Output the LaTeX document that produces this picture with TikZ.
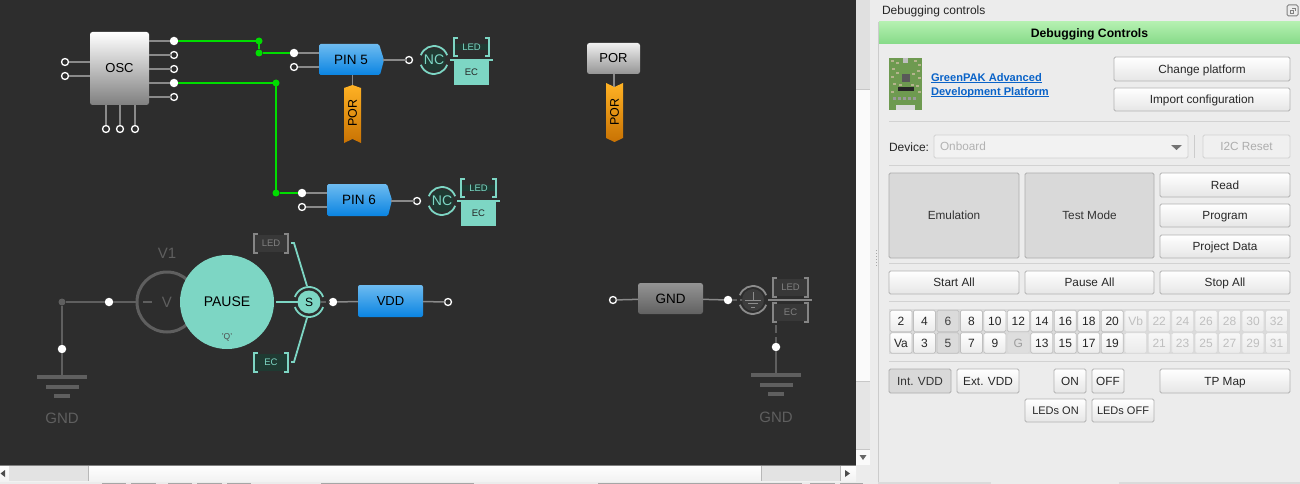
\documentclass[tikz,border=0pt]{standalone}
\usepackage{fontspec}
\setmainfont{Liberation Sans}
\usetikzlibrary{shadings,calc}
\definecolor{canvasbg}{HTML}{2D2D2D}
\definecolor{teal}{HTML}{7DD6C4}
\definecolor{darkteal}{HTML}{1F3A32}
\definecolor{wire}{HTML}{8A8A8A}
\definecolor{dimwire}{HTML}{5F5F5F}
\definecolor{gogreen}{HTML}{00DD00}
\definecolor{panelbg}{HTML}{ECECEC}
\definecolor{sep}{HTML}{D2D2D2}
\definecolor{btnline}{HTML}{B2B2B2}
\definecolor{linkblue}{HTML}{0A63C8}
\definecolor{blueA}{HTML}{6DBBF0}
\definecolor{blueB}{HTML}{0A84E2}
\definecolor{flagA}{HTML}{FFB224}
\definecolor{flagB}{HTML}{C87203}
\definecolor{btnbottom}{HTML}{E6E6E6}
\definecolor{headA}{HTML}{B4F0B0}
\definecolor{headB}{HTML}{86DA88}
\definecolor{boardgreen}{HTML}{6E9A50}
\definecolor{boardtan}{HTML}{B4B48C}
\tikzset{
  fs/.style={font=\fontsize{#1}{#1}\selectfont},
  base/.style={rectangle,inner sep=0pt,outer sep=0pt,align=center},
  capsalign/.style={text height=8.8pt,text depth=0pt},
  pinopen/.style={circle,draw=white,line width=1.3pt,fill=canvasbg,minimum size=7pt,inner sep=0pt,outer sep=0pt},
  pinfull/.style={circle,fill=white,minimum size=8.5pt,inner sep=0pt,outer sep=0pt},
  junction/.style={circle,fill=gogreen,minimum size=7pt,inner sep=0pt,outer sep=0pt},
  dimjunction/.style={circle,fill=dimwire,minimum size=7pt,inner sep=0pt,outer sep=0pt},
  wireline/.style={draw=wire,line width=1.5pt},
  greenwire/.style={draw=gogreen,line width=1.5pt},
  dimline/.style={draw=dimwire,line width=1.5pt},
  tealline/.style={draw=teal,line width=1.8pt},
  flagshape/.style={top color=flagA,bottom color=flagB,draw=none},
  pinshape/.style={top color=blueA,bottom color=blueB,draw=none,rounded corners=1.5pt},
  bluebox/.style={base,fs=13.5,text=black},
  flaglabel/.style={base,fs=12.5,text=black,rotate=90},
  bars/.style={fill=dimwire,draw=none},
  dimtext/.style={base,text=dimwire,fs=15},
  btn/.style={base,capsalign,rounded corners=1.5pt,draw=btnline,line width=.9pt,top color=white,bottom color=btnbottom,text=black!85,fs=11.8},
  pressed/.style={base,capsalign,rounded corners=1.5pt,draw=black!32,line width=.9pt,fill=black!15,text=black!80,fs=11.8},
  disabled/.style={base,capsalign,rounded corners=1.5pt,draw=black!18,line width=.9pt,fill=black!6,text=black!32,fs=11.8},
  sepline/.style={draw=sep,line width=1pt},
  cellon/.style={base,capsalign,rounded corners=1.5pt,draw=black!25,line width=.7pt,top color=white,bottom color=black!8,text=black!85,fs=12},
  celldown/.style={base,capsalign,rounded corners=1.5pt,draw=black!25,line width=.7pt,fill=black!14,text=black!75,fs=12},
  celloff/.style={base,capsalign,rounded corners=1.5pt,draw=black!15,line width=.7pt,top color=black!3,bottom color=black!8,text=black!25,fs=12},
  cellgnd/.style={base,capsalign,rounded corners=1.5pt,draw=black!15,line width=.7pt,fill=black!13,text=black!38,fs=12},
}
% box between two corners: style, name, x1, y1, x2, y2, text
\newcommand{\placebox}[7]{%
  \pgfmathsetmacro{\bw}{#5-#3}\pgfmathsetmacro{\bh}{#6-#4}%
  \node[#1,minimum width=\bw pt,minimum height=\bh pt] (#2) at ({(#3+#5)/2},{(#4+#6)/2}) {#7};}
% bracket: colour, x1, y1, x2, y2
\newcommand{\brk}[5]{%
  \draw[#1,line width=2pt] (#2+4,#3) -- (#2,#3) -- (#2,#5) -- (#2+4,#5);
  \draw[#1,line width=2pt] (#4-4,#3) -- (#4,#3) -- (#4,#5) -- (#4-4,#5);}
% ring arcs above and below a centre
\newcommand{\ringarcs}[4]{%
  \begin{scope}[shift={(#2,#3)}]
    \draw[#1,line width=1.8pt] (200:#4) arc[start angle=200,end angle=340,radius=#4];
    \draw[#1,line width=1.8pt] (20:#4) arc[start angle=20,end angle=160,radius=#4];
  \end{scope}}
% NC symbol with LED / EC: name, centre x, y, left of bracket
\newcommand{\ncgroup}[4]{%
  \ringarcs{teal}{#2}{#3}{14}
  \node[circle,fill=darkteal,minimum size=22pt,inner sep=0pt,outer sep=0pt,text=teal,fs=14] (#1nc) at (#2,#3) {NC};
  \placebox{base,fill=darkteal,text=teal,fs=9.5}{#1led}{#4+1}{#3-22}{#4+34}{#3-4}{LED}
  \brk{teal}{#4}{#3-22}{#4+35}{#3-4}
  \draw[teal,line width=2pt] (#4-4,#3) -- (#4+39,#3);
  \placebox{base,fill=teal,text=black!85,fs=9.5}{#1ec}{#4}{#3+3}{#4+35}{#3+22}{EC}}
% ground bars centred on x, top bar y
\newcommand{\gndbars}[2]{%
  \fill[bars] (#1-25,#2-2) rectangle (#1+25,#2+2);
  \fill[bars] (#1-16.5,#2+8) rectangle (#1+16.5,#2+12);
  \fill[bars] (#1-8,#2+17) rectangle (#1+8,#2+21);}
\begin{document}
\begin{tikzpicture}[x=1pt,y=-1pt]
\useasboundingbox (0,0) rectangle (1300,484);
% backgrounds
\fill[panelbg] (0,0) rectangle (1300,484);
\fill[canvasbg] (0,0) rectangle (856,465);
% scrollbars
\fill[black!2] (856,0) rectangle (870,465);
\fill[black!12] (856,0) rectangle (870,89);
\fill[black!10] (856,381) rectangle (870,449);
\draw[black!22,line width=.6pt] (856,89) -- (870,89) (856,381) -- (870,381) (856,449) -- (870,449);
\fill[black!60] (859.5,455) -- (866.5,455) -- (863,460) -- cycle;
\shade[top color=white,bottom color=black!5] (0,465) rectangle (856,481);
\fill[black!11] (9,466) rectangle (88,481);
\fill[black!11] (761,466) rectangle (840,481);
\draw[black!28,line width=.6pt] (88,466) -- (88,481) (761,466) -- (761,481) (840,466) -- (840,481);
\draw[black!50,line width=1pt] (0,465.3) -- (856,465.3);
\fill[black!70] (5,470) -- (5,477) -- (0.5,473.5) -- cycle;
\fill[black!70] (845,470) -- (845,477) -- (850,473.5) -- cycle;
\draw[black!35,line width=1pt,dotted] (876,250) -- (876,266);
\foreach \a/\b in {102/126,131/156,168/192,197/222,227/251,321/474,598/802,810/835,840/863}
  \fill[black!35] (\a,482.5) rectangle (\b,484);
\draw[black!20,line width=1pt] (878,22) -- (878,482);
\fill[black!14] (878,482) rectangle (991,484);
\fill[black!14] (1119,482) rectangle (1300,484);

% ---- OSC ----
\placebox{base,rounded corners=2.5pt,top color=white,bottom color=black!50,fs=13,text=black}{osc}{90}{32}{149}{105}{OSC}
\node[pinfull] (o1) at (174,41) {};
\node[pinopen] (o2) at (174,55) {};
\node[pinopen] (o3) at (174,69) {};
\node[pinfull] (o4) at (174,83) {};
\node[pinopen] (o5) at (174,97) {};
\node[pinopen] (il1) at (65,62) {};
\node[pinopen] (il2) at (65,76) {};
\node[pinopen] (ib1) at (106,129) {};
\node[pinopen] (ib2) at (120,129) {};
\node[pinopen] (ib3) at (135,129) {};
\foreach \n in {o1,o2,o3,o4,o5} \draw[wireline] (osc.east |- \n) -- (\n);
\foreach \n in {il1,il2} \draw[wireline] (\n) -- (osc.west |- \n);
\foreach \n in {ib1,ib2,ib3} \draw[wireline] (\n) -- (\n |- osc.south);

% ---- PIN 5 ----
\shade[pinshape] (319,44) -- (379,44) -- (384,60) -- (380,75) -- (319,75) -- cycle;
\placebox{bluebox}{pinfive}{319}{44}{383}{75}{PIN 5}
\node[pinfull] (p5a) at (294,53) {};
\node[pinopen] (p5b) at (294,67) {};
\node[pinopen] (p5o) at (409,60) {};
\draw[wireline] (p5a) -- (pinfive.west |- p5a);
\draw[wireline] (p5b) -- (pinfive.west |- p5b);
\draw[wireline] (pinfive.east |- p5o) -- (p5o);
\ncgroup{five}{434}{60}{454}
% POR flag below PIN 5
\shade[flagshape] (344,88) -- (352.5,85) -- (361,88) -- (361,143) -- (352.5,139) -- (344,143) -- cycle;
\node[flaglabel] (porflagone) at (352.5,113) {POR};
\coordinate (porflagonetop) at (352.5,85);
\draw[wireline] (pinfive.south -| porflagonetop) -- (porflagonetop);
% green routes
\node[junction] (ja) at (259,41) {};
\node[junction] (jb) at (259,53) {};
\node[junction] (jc) at (276,83) {};
\node[junction] (jd) at (276,193) {};
\draw[greenwire] (o1) -- (ja);
\draw[greenwire] (ja) -- (jb);
\draw[greenwire] (jb) -- (p5a);
\draw[greenwire] (o4) -- (jc);
\draw[greenwire] (jc) -- (jd);

% ---- PIN 6 ----
\shade[pinshape] (327,184) -- (387,184) -- (392,200) -- (388,216) -- (327,216) -- cycle;
\placebox{bluebox}{pinsix}{327}{184}{391}{216}{PIN 6}
\node[pinfull] (p6a) at (302,193) {};
\node[pinopen] (p6b) at (302,207) {};
\node[pinopen] (p6o) at (417,201) {};
\draw[greenwire] (jd) -- (p6a);
\draw[wireline] (p6a) -- (pinsix.west |- p6a);
\draw[wireline] (p6b) -- (pinsix.west |- p6b);
\draw[wireline] (pinsix.east |- p6o) -- (p6o);
\ncgroup{six}{442}{201}{461}

% ---- POR ----
\placebox{base,rounded corners=2.5pt,top color=black!6,bottom color=black!42,fs=13,text=black}{por}{587}{43}{640}{74}{POR}
\shade[flagshape] (606,83) -- (614.5,87) -- (623,83) -- (623,138) -- (614.5,142) -- (606,138) -- cycle;
\node[flaglabel] (porflagtwo) at (614.5,112) {POR};
\coordinate (porflagtwotop) at (614,87);
\draw[wireline] (por.south -| porflagtwotop) -- (porflagtwotop);

% ---- VDD / PAUSE ----
\node[dimjunction] (vj) at (62,302) {};
\node[pinfull] (vl) at (109,302) {};
\node[pinfull] (vg) at (62,349) {};
\node[circle,draw=dimwire,line width=3pt,minimum size=60pt,inner sep=0pt,outer sep=0pt] (vring) at (167,302) {};
\node[base,text=dimwire,fs=15] (vone) at (167,253) {V1};
\draw[dimline,line width=1.2pt] (143,302) -- (152,302);
\node[base,text=dimwire,fs=15] (vv) at (167,302) {V};
\node[circle,fill=teal,minimum size=94pt,inner sep=0pt,outer sep=0pt,fs=14,text=black] (pause) at (227,302) {PAUSE};
\node[base,text=black!70,fs=8.5] (qq) at (227,337) {'Q'};
\draw[dimline] (vj) -- (vl);
\draw[dimline] (vl) -- (vring);
\draw[dimline] (vj) -- (vg);
\coordinate (gndl) at (62,377);
\draw[dimline] (vg) -- (gndl);
\gndbars{62}{377}
\node[dimtext] (gndltext) at (62,418) {GND};

% S switch
\ringarcs{teal}{309}{302}{15}
\node[circle,fill=teal,minimum size=23pt,inner sep=0pt,outer sep=0pt,fs=12,text=black] (sw) at (309,302) {S};
\coordinate (pauseout) at (276,302);
\draw[tealline] (pauseout) -- (sw);
\node[pinfull] (sout) at (333,302) {};
\draw[dimline,dash pattern=on 5pt off 3pt] (sw) -- (sout);
\placebox{base,top color=blueA,bottom color=blueB,rounded corners=2pt,fs=13,text=black}{vdd}{358}{285}{423}{317}{VDD}
\node[pinopen] (vddo) at (448,302) {};
\draw[wireline] (sout) -- (vdd);
\draw[wireline] (vdd) -- (vddo);

% LED / EC selectors
\placebox{base,fill=black!78,text=black!50,fs=9.5}{sled}{255}{235}{287}{252}{LED}
\brk{black!48}{254}{234}{288}{253}
\placebox{base,fill=darkteal,text=teal,fs=9.5}{sec}{255}{354}{287}{371}{EC}
\brk{teal}{254}{353}{288}{372}
\coordinate (ledbend) at (294,243);
\coordinate (ecbend) at (294,362);
\draw[tealline] (291,243) -- (ledbend) -- (307,286);
\draw[tealline] (291,362) -- (ecbend) -- (307,318);

% ---- GND block ----
\node[pinopen] (gi) at (613,300) {};
\placebox{base,rounded corners=2.5pt,top color=black!42,bottom color=black!62,fs=13.5,text=black}{gnd}{638}{283}{703}{314}{GND}
\node[pinfull] (go) at (728,300) {};
\draw[wireline] (gi) -- (gnd);
\draw[wireline] (gnd) -- (go);
\ringarcs{black!45}{753}{300}{14}
\node[circle,fill=black!76,minimum size=22pt,inner sep=0pt,outer sep=0pt] (earth) at (753,300) {};
\draw[dimline,dash pattern=on 5pt off 3pt] (go) -- (earth);
\draw[black!45,line width=1pt] (753,292) -- (753,300) (745,300) -- (761,300) (748,303.5) -- (758,303.5) (751,307) -- (755,307);
\placebox{base,fill=black!78,text=black!50,fs=9.5}{gled}{774}{279}{807}{296}{LED}
\brk{black!48}{773}{278}{808}{297}
\draw[black!48,line width=2pt] (768,300) -- (812,300);
\placebox{base,fill=black!78,text=black!50,fs=9.5}{gec}{774}{304}{807}{321}{EC}
\brk{black!48}{773}{303}{808}{322}
\node[pinfull] (gj) at (776,347) {};
\coordinate (gectail) at (776,325);
\draw[dimline,dash pattern=on 8pt off 4pt] (gectail) -- (gj);
\coordinate (gndr) at (776,375);
\draw[dimline] (gj) -- (gndr);
\gndbars{776}{375}
\node[dimtext] (gndrtext) at (776,417) {GND};

% ---- PANEL ----
\node[base,capsalign,anchor=west,fs=12,text=black!85] (ptitle) at (882,10) {Debugging controls};
\draw[black!50,line width=1pt,rounded corners=1.5pt] (1287,5) rectangle (1298,16);
\draw[black!50,line width=.7pt] (1290,10) rectangle (1293.5,13.5) (1292,8) -- (1295.5,8) -- (1295.5,11.5);
\placebox{base,capsalign,top color=headA,bottom color=headB,text=black,font=\fontsize{12.2}{12.2}\selectfont\bfseries}{phead}{879}{22}{1300}{44}{Debugging Controls}
% board image
\fill[boardgreen] (889,58) rectangle (922,110);
\foreach \x/\y in {891/60,896/62,914/60,918/64,892/68,917/70,891/76,918/77,893/83,916/85,891/91,918/91,896/72,912/73,899/84,911/84}
  \fill[boardtan] (\x,\y) rectangle (\x+2.5,\y+2.5);
\fill[black!65] (902,74) rectangle (910,82);
\fill[black!85] (898,87) rectangle (914,91);
\fill[black!25] (903,58) rectangle (908,63);
\foreach \x in {893,898,903,908,913} \fill[black!40] (\x,97) rectangle (\x+3,100);
\fill[black!15] (896,105) rectangle (915,110);
\node[base,capsalign,anchor=west,text=linkblue,font=\fontsize{11.1}{11.1}\selectfont\bfseries] (linkone) at (931,77) {GreenPAK Advanced};
\node[base,capsalign,anchor=west,text=linkblue,font=\fontsize{11.1}{11.1}\selectfont\bfseries] (linktwo) at (931,91) {Development Platform};
\draw[linkblue,line width=.8pt] (linkone.south west)++(0,1.5) -- ($(linkone.south east)+(0,1.5)$);
\draw[linkblue,line width=.8pt] (linktwo.south west)++(0,1.5) -- ($(linktwo.south east)+(0,1.5)$);
\placebox{btn}{chg}{1114}{57}{1290}{81}{Change platform}
\placebox{btn}{imp}{1114}{88}{1290}{111}{Import configuration}
\draw[sepline] (889,122) -- (1290,122);
\node[base,capsalign,anchor=west,fs=12,text=black!85] (devlab) at (889,147) {Device:};
\placebox{disabled,fill=black!5,text=black!30,text width=242pt,align=left}{combo}{934}{135}{1188}{158}{Onboard}
\fill[black!55] (1171,145) -- (1182,145) -- (1176.5,150) -- cycle;
\draw[black!20,line width=1pt] (1194,135) -- (1194,158);
\placebox{disabled}{iic}{1203}{135}{1290}{158}{I2C Reset}
\draw[sepline] (889,165) -- (1290,165);
\placebox{pressed}{emu}{889}{173}{1019}{258}{Emulation}
\placebox{pressed}{test}{1025}{173}{1154}{258}{Test Mode}
\placebox{btn}{rd}{1160}{173}{1290}{197}{Read}
\placebox{btn}{prog}{1160}{204}{1290}{227}{Program}
\placebox{btn}{pdata}{1160}{235}{1290}{258}{Project Data}
\draw[sepline] (889,263) -- (1290,263);
\placebox{btn}{sta}{889}{271}{1019}{294}{Start All}
\placebox{btn}{pau}{1025}{271}{1154}{294}{Pause All}
\placebox{btn}{sto}{1160}{271}{1290}{294}{Stop All}
\draw[sepline] (889,301) -- (1290,301);
\fill[black!14] (889,309) rectangle (1290,354);
% pin grid
\foreach \t/\s [count=\i from 0] in {2/cellon,4/cellon,6/celldown,8/cellon,10/cellon,12/cellon,14/cellon,16/cellon,18/cellon,20/cellon,Vb/celloff,22/celloff,24/celloff,26/celloff,28/celloff,30/celloff,32/celloff}{
  \pgfmathsetmacro{\cx}{901+23.47*\i}
  \node[\s,minimum width=22pt,minimum height=21.5pt] (ra\i) at (\cx,321) {\t};}
\foreach \t/\s [count=\i from 0] in {Va/cellon,3/cellon,5/celldown,7/cellon,9/cellon,G/cellgnd,13/cellon,15/cellon,17/cellon,19/cellon,{}/celloff,21/celloff,23/celloff,25/celloff,27/celloff,29/celloff,31/celloff}{
  \pgfmathsetmacro{\cx}{901+23.47*\i}
  \node[\s,minimum width=22pt,minimum height=20.5pt] (rb\i) at (\cx,343) {\t};}
\draw[sepline] (889,361) -- (1290,361);
\placebox{pressed}{intv}{889}{369}{951}{393}{Int. VDD}
\placebox{btn}{extv}{957}{369}{1019}{393}{Ext. VDD}
\placebox{btn}{on}{1054}{369}{1086}{393}{ON}
\placebox{btn}{off}{1092}{369}{1124}{393}{OFF}
\placebox{btn}{tp}{1160}{369}{1290}{393}{TP Map}
\placebox{btn,fs=11}{lon}{1025}{399}{1086}{422}{LEDs ON}
\placebox{btn,fs=11}{loff}{1092}{399}{1154}{422}{LEDs OFF}
\end{tikzpicture}
\end{document}
